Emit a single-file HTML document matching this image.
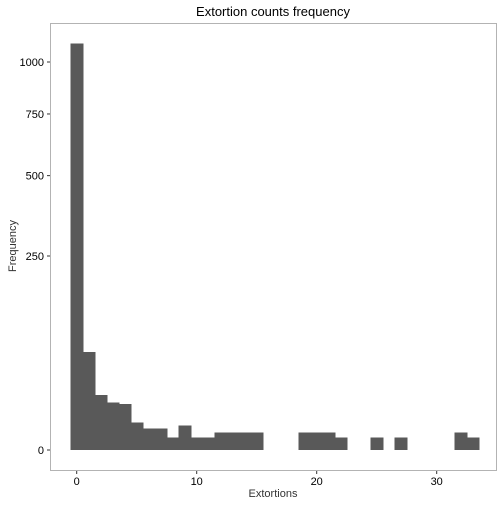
<!DOCTYPE html>
<html><head><meta charset="utf-8"><style>
body{margin:0;background:#fff;font-family:"Liberation Sans",sans-serif}
svg text{font-family:"Liberation Sans",sans-serif}
</style></head><body>
<svg id="chart" width="504" height="504" xmlns="http://www.w3.org/2000/svg">
<rect width="504" height="504" fill="#fff"/>
<text x="273" y="16" text-anchor="middle" font-size="13" fill="#000">Extortion counts frequency</text>
<rect x="50.5" y="23.5" width="446" height="447" fill="none" stroke="#b3b3b3" stroke-width="1"/>
<g id="bars" shape-rendering="crispEdges"></g><g id="axes"></g>
<text x="273" y="497" text-anchor="middle" font-size="11" fill="#333">Extortions</text>
<text transform="translate(16,246) rotate(-90)" text-anchor="middle" font-size="11" fill="#333">Frequency</text>
</svg>
<script>
const bins = [0,1,2,3,4,5,6,7,8,9,10,11,12,13,14,15,19,20,21,22,25,27,32,33];
const counts = [1098,64,20,15,14,5,3,3,1,4,1,1,2,2,2,2,2,2,2,1,1,1,2,1];
const xTicks = [0,10,20,30];
const yTicks = [0,250,500,750,1000];
const NS="http://www.w3.org/2000/svg";
function xs(v){return 76.7+12*v;}
function ys(v){return 450-12.27*Math.sqrt(v);}
const bars=document.getElementById('bars'), axes=document.getElementById('axes');
function mk(t,a,p){const e=document.createElementNS(NS,t);for(const k in a)e.setAttribute(k,a[k]);p.appendChild(e);return e;}
bins.forEach((b,i)=>{
  const r=mk('rect',{x:xs(b-0.5),y:ys(counts[i]),width:xs(b+0.5)-xs(b-0.5)+0.6,height:ys(0)-ys(counts[i]),fill:'#595959'},bars);
  
  
});
xTicks.forEach(t=>{
  const l=mk('line',{x1:xs(t),x2:xs(t),y1:471,y2:474,stroke:'#333'},axes);
  
  
  const tx=mk('text',{x:xs(t),y:485,'text-anchor':'middle','font-size':'11',fill:'#000'},axes);
  tx.textContent=t;
  
  
});
yTicks.forEach(t=>{
  const l=mk('line',{x1:47,x2:50,y1:ys(t),y2:ys(t),stroke:'#333'},axes);
  
  
  const tx=mk('text',{x:44,y:ys(t)+4,'text-anchor':'end','font-size':'11',fill:'#000'},axes);
  tx.textContent=t;
  
  
});
</script>
</body></html>
